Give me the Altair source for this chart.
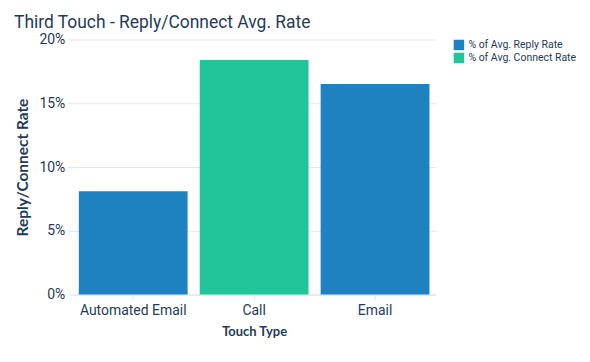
import altair as alt
import pandas as pd

categories = ["Automated Email", "Call", "Email"]
values = [0.081, 0.184, 0.165]
series = ["% of Avg. Reply Rate", "% of Avg. Connect Rate", "% of Avg. Reply Rate"]
legend_order = ["% of Avg. Reply Rate", "% of Avg. Connect Rate"]
y_ticks = [0, 0.05, 0.1, 0.15, 0.2]
colors = ["#1f82c0", "#22c49a"]

df = pd.DataFrame({"Touch Type": categories, "Rate": values, "Series": series})

text_color = "#1f3b57"

chart = alt.Chart(df).mark_bar().encode(
    x=alt.X("Touch Type:N", sort=categories,
            scale=alt.Scale(paddingInner=0.1, paddingOuter=0.05),
            axis=alt.Axis(title="Touch Type", labelAngle=0, labelFontSize=14,
                          labelColor=text_color, titleFontSize=13, titleFontWeight="bold",
                          titleColor=text_color, titleFont="Lato", labelFont="Roboto",
                          domainColor="#dde3e8", tickColor="#dde3e8", tickSize=5,
                          labelPadding=4, titlePadding=8)),
    y=alt.Y("Rate:Q",
            scale=alt.Scale(domain=[0, 0.2]),
            axis=alt.Axis(title="Reply/Connect Rate", format=".0%",
                          values=y_ticks, labelOverlap=False,
                          labelFontSize=14, labelColor=text_color, titleFontSize=15.5,
                          titleFontWeight="bold", titleColor=text_color, titleFont="Lato",
                          labelFont="Roboto", domain=False, tickColor="#dde3e8",
                          tickSize=5, gridColor="#e3e7eb", labelPadding=3, titlePadding=8)),
    color=alt.Color("Series:N", scale=alt.Scale(domain=legend_order, range=colors),
                    legend=alt.Legend(title=None, symbolType="square", symbolSize=110,
                                      labelFontSize=10.5, labelColor=text_color,
                                      labelFont="Roboto", orient="right", offset=18,
                                      rowPadding=2, symbolStrokeWidth=0)),
).properties(
    width=364, height=256,
    padding={"left": 6, "top": 5, "right": 5, "bottom": 5},
    title=alt.TitleParams("Third Touch - Reply/Connect Avg. Rate", anchor="start",
                          fontSize=17.5, font="Roboto", fontWeight="normal", color=text_color,
                          offset=1, frame="bounds", dx=-2),
).configure_view(stroke=None)

chart.save("out.html", embed_options={"renderer": "svg", "actions": False})
